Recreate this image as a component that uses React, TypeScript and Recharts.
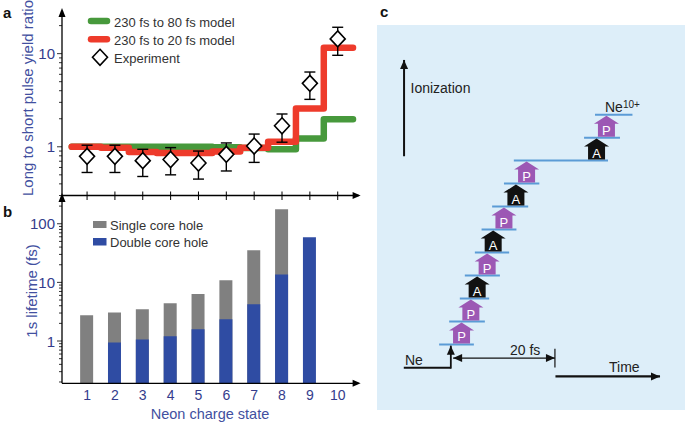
import {
  ComposedChart,
  Line,
  Scatter,
  ErrorBar,
  Bar,
  XAxis,
  YAxis,
  ReferenceDot,
  ReferenceLine,
} from "recharts";

const FONT = '"Liberation Sans", Arial, Helvetica, sans-serif';
const AXIS_BLUE = "#343c8c";
const LABEL_BLUE = "#4250a0";
const LEGEND_TEXT = "#333333";

// ---- panel a: yield ratio ----
const charges = [1, 2, 3, 4, 5, 6, 7, 8, 9, 10];
const model80fs = [1.0, 1.0, 1.0, 1.0, 1.0, 0.99, 0.97, 0.94, 1.23, 1.98];
const model20fs = [1.0, 0.975, 0.88, 0.86, 0.86, 0.89, 0.975, 1.13, 2.58, 11.6];
const expRatio = [0.79, 0.79, 0.71, 0.73, 0.67, 0.83, 1.02, 1.68, 4.8, 14.4];
const expLow = [0.53, 0.53, 0.48, 0.5, 0.45, 0.55, 0.68, 1.12, 3.23, 9.6];
const expHigh = [1.04, 1.04, 0.94, 0.98, 0.9, 1.1, 1.37, 2.25, 6.35, 19.2];
const stepEdges = [0.45, 10.55];
const ratioTicks = [0.3, 0.4, 0.5, 0.6, 0.7, 0.8, 0.9, 1, 2, 3, 4, 5, 6, 7, 8, 9, 10, 20];
const ratioLabels = [1, 10];
const legendA = ["230 fs to 80 fs model", "230 fs to 20 fs model", "Experiment"];

// ---- panel b: lifetimes ----
const singleCoreHole = [2.75, 3.06, 3.48, 4.4, 6.35, 10.9, 35.5, 176, null, null];
const doubleCoreHole = [null, 0.94, 1.06, 1.2, 1.58, 2.35, 4.24, 13.6, 59, null];
const lifetimeTicks = [
  0.2, 0.3, 0.4, 0.5, 0.6, 0.7, 0.8, 0.9, 1, 2, 3, 4, 5, 6, 7, 8, 9,
  10, 20, 30, 40, 50, 60, 70, 80, 90, 100, 200,
];
const lifetimeLabels = [1, 10, 100];
const legendB = ["Single core hole", "Double core hole"];

// ---- panel c: ionization sequence (time in fs, level = charge) ----
const stepKinds = ["P", "P", "A", "P", "A", "P", "A", "P", "A", "P"];
const stepTimes = [2.25, 4.04, 5.25, 7.17, 8.33, 10.4, 12.7, 14.75, 28.2, 30.1];
const levelStart = [-2.06, -0.13, 1.92, 2.88, 4.81, 6.1, 8.13, 10.4, 12.3, 25.8, 27.9];
const levelEnd = [4.62, 6.73, 7.56, 9.62, 11.4, 12.8, 15.06, 17.2, 30.4, 32.7, 35.1];

const GREEN = "#47993c";
const RED = "#ee3b2b";
const GREY = "#808080";
const BLUE = "#2f4ca3";
const PURPLE = "#9c58b4";
const LEVEL = "#5b9bd6";

const xDomain: [number, number] = [0.1, 10.75];

const stepLine = (vals: number[]) => [
  { x: stepEdges[0], y: vals[0] },
  ...charges.map((c, i) => ({ x: c, y: vals[i] })),
  { x: stepEdges[1], y: vals[vals.length - 1] },
];

const expData = charges.map((c, i) => ({
  x: c,
  y: expRatio[i],
  err: [expRatio[i] - expLow[i], expHigh[i] - expRatio[i]],
}));

const lifetimeData = charges.map((c, i) => ({
  x: c,
  single: singleCoreHole[i],
  double: doubleCoreHole[i],
}));

const boxData = stepKinds.map((k, i) => ({ t: stepTimes[i], level: i, kind: k }));

function LogTick({ x, y, payload, labels }: any) {
  const major = labels.includes(payload.value);
  return (
    <g>
      <line x1={x - (major ? 5 : 3)} x2={x} y1={y} y2={y} stroke="#000" strokeWidth={0.8} />
      {major && (
        <text
          x={x - 7}
          y={y}
          textAnchor="end"
          dominantBaseline="central"
          fontSize={15}
          fontFamily={FONT}
          fill={AXIS_BLUE}
        >
          {payload.value}
        </text>
      )}
    </g>
  );
}

function CrossTick({ x, y }: any) {
  return <line x1={x} x2={x} y1={y - 4} y2={y + 4.5} stroke="#000" strokeWidth={1} />;
}

function ChargeTick({ x, y, payload }: any) {
  return (
    <text
      x={x}
      y={y + 12}
      textAnchor="middle"
      dominantBaseline="central"
      fontSize={14}
      fontFamily={FONT}
      fill={AXIS_BLUE}
    >
      {payload.value}
    </text>
  );
}

const arrowRight = (p: any) => (
  <polygon points={`${p.cx - 6},${p.cy - 3.5} ${p.cx + 2},${p.cy} ${p.cx - 6},${p.cy + 3.5}`} fill="#000" />
);
const arrowUp = (p: any) => (
  <polygon points={`${p.cx - 3.5},${p.cy + 5} ${p.cx},${p.cy - 4} ${p.cx + 3.5},${p.cy + 5}`} fill="#000" />
);

function Diamond({ cx, cy }: any) {
  return (
    <polygon
      points={`${cx},${cy - 8} ${cx + 7.5},${cy} ${cx},${cy + 8} ${cx - 7.5},${cy}`}
      fill="#fff"
      stroke="#000"
      strokeWidth={1.6}
    />
  );
}

function StepBox({ cx, cy, payload }: any) {
  const fill = payload.kind === "A" ? "#111" : PURPLE;
  const b = cy - 1;
  return (
    <g>
      <polygon
        points={`${cx - 8.5},${b} ${cx + 8.5},${b} ${cx + 8.5},${b - 13} ${cx + 12.5},${b - 13} ${cx},${b - 21} ${cx - 12.5},${b - 13} ${cx - 8.5},${b - 13}`}
        fill={fill}
      />
      <text
        x={cx}
        y={b - 6.5}
        textAnchor="middle"
        dominantBaseline="central"
        fontSize={13}
        fontFamily={FONT}
        fill="#fff"
      >
        {payload.kind}
      </text>
    </g>
  );
}

const arrowLine = (start: boolean, end: boolean, width = 1.6) => (p: any) => {
  const { x1, y1, x2, y2 } = p;
  const a = Math.atan2(y2 - y1, x2 - x1);
  const head = (x: number, y: number, ang: number) => {
    const l = 9;
    const w = 4;
    const bx = x - l * Math.cos(ang);
    const by = y - l * Math.sin(ang);
    const nx = -Math.sin(ang) * w;
    const ny = Math.cos(ang) * w;
    return <polygon points={`${x},${y} ${bx + nx},${by + ny} ${bx - nx},${by - ny}`} fill="#111" />;
  };
  return (
    <g>
      <line x1={x1} y1={y1} x2={x2} y2={y2} stroke="#111" strokeWidth={width} />
      {end && head(x2, y2, a)}
      {start && head(x1, y1, a + Math.PI)}
    </g>
  );
};

function Text({ x, y, size = 14, children, bold, color = "#222" }: any) {
  return (
    <div
      style={{
        position: "absolute",
        left: x,
        top: y,
        transform: "translateY(-50%)",
        fontFamily: FONT,
        fontSize: size,
        fontWeight: bold ? "bold" : "normal",
        color,
        lineHeight: 1,
        whiteSpace: "nowrap",
      }}
    >
      {children}
    </div>
  );
}

function VText({ x, y, size = 15, children }: any) {
  return (
    <div
      style={{
        position: "absolute",
        left: x,
        top: y,
        transform: "translate(-50%, -50%) rotate(-90deg)",
        fontFamily: FONT,
        fontSize: size,
        color: LABEL_BLUE,
        lineHeight: 1,
        whiteSpace: "nowrap",
      }}
    >
      {children}
    </div>
  );
}

export default function App() {
  return (
    <div style={{ position: "absolute", left: 0, top: 0, width: 685, height: 422, background: "#fff" }}>
      {/* panel a */}
      <div style={{ position: "absolute", left: 0, top: 0 }}>
        <ComposedChart width={370} height={200} margin={{ top: 12, right: 11.4, left: 22, bottom: 0 }}>
          <XAxis
            type="number"
            dataKey="x"
            domain={xDomain}
            allowDataOverflow
            ticks={charges}
            interval={0}
            height={4.5}
            tickSize={0}
            tickMargin={0}
            tickLine={false}
            tick={<CrossTick />}
            axisLine={{ stroke: "#000", strokeWidth: 1.3 }}
          />
          <YAxis
            type="number"
            scale="log"
            domain={[0.3, 28]}
            allowDataOverflow
            ticks={ratioTicks}
            interval={0}
            width={40}
            tickSize={0}
            tickMargin={0}
            tickLine={false}
            tick={<LogTick labels={ratioLabels} />}
            axisLine={{ stroke: "#000", strokeWidth: 1.3 }}
          />
          <Line
            data={stepLine(model80fs)}
            dataKey="y"
            type="step"
            stroke={GREEN}
            strokeWidth={6.5}
            strokeLinecap="round"
            strokeLinejoin="round"
            dot={false}
            isAnimationActive={false}
          />
          <Line
            data={stepLine(model20fs)}
            dataKey="y"
            type="step"
            stroke={RED}
            strokeWidth={6.5}
            strokeLinecap="round"
            strokeLinejoin="round"
            dot={false}
            isAnimationActive={false}
          />
          <Scatter data={expData} dataKey="y" shape={<Diamond />} isAnimationActive={false}>
            <ErrorBar dataKey="err" direction="y" width={5.5} stroke="#000" strokeWidth={1.4} />
          </Scatter>
          <ReferenceDot x={xDomain[1]} y={0.3} ifOverflow="visible" shape={arrowRight} />
          <ReferenceDot x={xDomain[0]} y={28} ifOverflow="visible" shape={arrowUp} />
        </ComposedChart>
      </div>

      {/* panel b */}
      <div style={{ position: "absolute", left: 0, top: 190 }}>
        <ComposedChart
          width={370}
          height={232}
          data={lifetimeData}
          margin={{ top: 7, right: 11.4, left: 22, bottom: 0 }}
        >
          <XAxis
            xAxisId="x"
            type="number"
            dataKey="x"
            domain={xDomain}
            allowDataOverflow
            ticks={charges}
            interval={0}
            height={38.7}
            tickSize={0}
            tickMargin={0}
            tickLine={false}
            tick={<ChargeTick />}
            axisLine={{ stroke: "#000", strokeWidth: 1.3 }}
          />
          <XAxis xAxisId="x2" type="number" dataKey="x" domain={xDomain} allowDataOverflow hide />
          <YAxis
            type="number"
            scale="log"
            domain={[0.19, 286]}
            allowDataOverflow
            ticks={lifetimeTicks}
            interval={0}
            width={40}
            tickSize={0}
            tickMargin={0}
            tickLine={false}
            tick={<LogTick labels={lifetimeLabels} />}
            axisLine={{ stroke: "#000", strokeWidth: 1.3 }}
          />
          <Bar xAxisId="x" dataKey="single" fill={GREY} barSize={13} isAnimationActive={false} />
          <Bar xAxisId="x2" dataKey="double" fill={BLUE} barSize={13} isAnimationActive={false} />
          <ReferenceDot xAxisId="x" x={xDomain[1]} y={0.19} ifOverflow="visible" shape={arrowRight} />
          <ReferenceDot xAxisId="x" x={xDomain[0]} y={286} ifOverflow="visible" shape={arrowUp} />
        </ComposedChart>
      </div>

      {/* panel c */}
      <div style={{ position: "absolute", left: 377, top: 25, width: 308, height: 385, background: "#ddeef9" }}>
        <ComposedChart width={308} height={385} margin={{ top: 0, right: 0, left: 0, bottom: 0 }}>
          <XAxis type="number" dataKey="t" domain={[-14, 45.2]} allowDataOverflow hide />
          <YAxis type="number" dataKey="level" domain={[-2.85, 13.9]} allowDataOverflow hide />
          {levelStart.map((s, i) => (
            <ReferenceLine
              key={i}
              segment={[
                { x: s, y: i },
                { x: levelEnd[i], y: i },
              ]}
              stroke={LEVEL}
              strokeWidth={2}
            />
          ))}
          <ReferenceLine segment={[{ x: -8.8, y: 8.19 }, { x: -8.8, y: 12.38 }]} shape={arrowLine(false, true, 2)} />
          <ReferenceLine segment={[{ x: 20.3, y: -1.39 }, { x: 40.4, y: -1.39 }]} shape={arrowLine(false, true, 2.2)} />
          <ReferenceLine segment={[{ x: -8.85, y: -1.01 }, { x: 0.19, y: -1.01 }]} shape={arrowLine(false, false, 2)} />
          <ReferenceLine segment={[{ x: 0.19, y: -1.05 }, { x: 0.19, y: -0.05 }]} shape={arrowLine(false, true, 1.8)} />
          <ReferenceLine segment={[{ x: 0.63, y: -0.59 }, { x: 20.2, y: -0.59 }]} shape={arrowLine(true, true, 1.3)} />
          <ReferenceLine segment={[{ x: 20.2, y: -0.18 }, { x: 20.2, y: -1.0 }]} stroke="#111" strokeWidth={1.2} />
          <Scatter data={boxData} dataKey="level" shape={<StepBox />} isAnimationActive={false} />
        </ComposedChart>
      </div>

      {/* legends */}
      <svg style={{ position: "absolute", left: 0, top: 0 }} width={370} height={260}>
        <line x1={91} x2={107} y1={21} y2={21} stroke={GREEN} strokeWidth={6.5} strokeLinecap="round" />
        <line x1={91} x2={107} y1={39.3} y2={39.3} stroke={RED} strokeWidth={6.5} strokeLinecap="round" />
        <Diamond cx={100} cy={57.3} />
        <rect x={93} y={221} width={13.5} height={7} fill={GREY} />
        <rect x={93} y={238} width={13.5} height={7.5} fill={BLUE} />
      </svg>
      <Text x={114} y={21.5} size={13} color={LEGEND_TEXT}>{legendA[0]}</Text>
      <Text x={114} y={39.8} size={13} color={LEGEND_TEXT}>{legendA[1]}</Text>
      <Text x={114} y={57.8} size={13} color={LEGEND_TEXT}>{legendA[2]}</Text>
      <Text x={110} y={224.8} size={13} color={LEGEND_TEXT}>{legendB[0]}</Text>
      <Text x={110} y={242} size={13} color={LEGEND_TEXT}>{legendB[1]}</Text>

      {/* axis titles */}
      <VText x={27} y={98}>Long to short pulse yield ratio</VText>
      <VText x={31} y={291}>1s lifetime (fs)</VText>
      <div
        style={{
          position: "absolute",
          left: 210,
          top: 414,
          transform: "translate(-50%, -50%)",
          fontFamily: FONT,
          fontSize: 14.5,
          color: LABEL_BLUE,
          lineHeight: 1,
          whiteSpace: "nowrap",
        }}
      >
        Neon charge state
      </div>

      {/* panel labels */}
      <Text x={3} y={12} size={15} bold color="#111">a</Text>
      <Text x={3} y={211} size={15} bold color="#111">b</Text>
      <Text x={380} y={11} size={15} bold color="#111">c</Text>

      {/* panel c texts */}
      <Text x={410.5} y={88} size={14}>Ionization</Text>
      <Text x={609} y={367} size={14}>Time</Text>
      <Text x={405} y={360} size={14}>Ne</Text>
      <Text x={510} y={350} size={14}>20 fs</Text>
      <Text x={605} y={106.5} size={14}>
        Ne<sup style={{ fontSize: 10, verticalAlign: "4px" }}>10+</sup>
      </Text>
    </div>
  );
}
